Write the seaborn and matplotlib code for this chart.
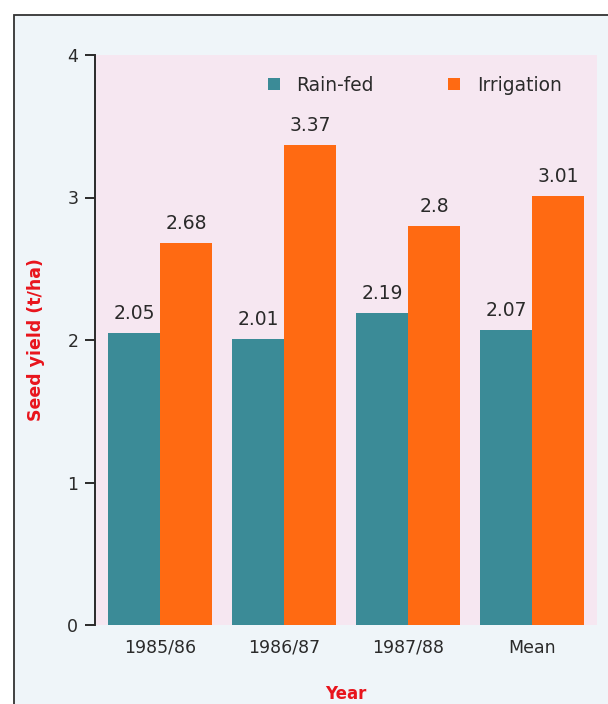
import matplotlib
matplotlib.use("Agg")
import matplotlib.pyplot as plt
import seaborn as sns
import pandas as pd
from matplotlib.patches import Rectangle

years = ["1985/86", "1986/87", "1987/88", "Mean"]
rainfed = [2.05, 2.01, 2.19, 2.07]
irrigation = [2.68, 3.37, 2.8, 3.01]
series_names = ["Rain-fed", "Irrigation"]
yticks = [0, 1, 2, 3, 4]

df = pd.DataFrame({
    "Year": years * 2,
    "Yield": rainfed + irrigation,
    "Treatment": [series_names[0]] * len(years) + [series_names[1]] * len(years),
})

sns.set_style("ticks")
plt.rcParams["font.family"] = ["DejaVu Sans"]

W, H = 608, 704
fig = plt.figure(figsize=(W / 100, H / 100), dpi=100, facecolor="white")
# scanned page frame
fig.patches.append(Rectangle((14 / W, -0.1), 1.0, 1.1 - 15 / H, transform=fig.transFigure,
                             facecolor="#eff5f9", edgecolor="#333333", linewidth=1.3, zorder=-5))

ax = fig.add_axes([95 / W, 1 - 625 / H, 502 / W, 570 / H])
ax.set_zorder(2)
ax.set_facecolor("#f6e7f1")

palette = {"Rain-fed": "#3b8b97", "Irrigation": "#ff6a12"}
sns.barplot(data=df, x="Year", y="Yield", hue="Treatment", palette=palette,
            width=0.84, ax=ax, saturation=1, edgecolor="none", linewidth=0)

for cont in ax.containers:
    labels = [f"{v:g}" for v in cont.datavalues]
    ax.bar_label(cont, labels=labels, padding=7, fontsize=13.5, color="#2a2a2a")

ax.set_ylim(0, 4)
ax.set_xlim(-0.524, 3.524)
ax.set_yticks(yticks)
ax.set_yticklabels([str(t) for t in yticks], fontsize=12.5, color="#2a2a2a")
ax.tick_params(axis="y", length=7, width=1.4, color="#2a2a2a", pad=5)
ax.tick_params(axis="x", length=0, labelsize=12.5, labelcolor="#2a2a2a", pad=10)

for s in ["top", "right", "bottom"]:
    ax.spines[s].set_visible(False)
ax.spines["left"].set_linewidth(1.4)
ax.spines["left"].set_color("#2a2a2a")

ax.set_xlabel("Year", color="#e8141c", fontweight="bold", fontsize=12, labelpad=20)
ax.set_ylabel("Seed yield (t/ha)", color="#e8141c", fontweight="bold", fontsize=12.5, labelpad=16)

leg = ax.legend(loc="center", bbox_to_anchor=(0.637, 0.947), ncol=2, frameon=False,
                fontsize=13.4, handlelength=0.65, handleheight=0.65, columnspacing=4.0,
                handletextpad=0.9)
for t in leg.get_texts():
    t.set_color("#2a2a2a")

fig.savefig("out.png", dpi=100, facecolor=fig.get_facecolor())
